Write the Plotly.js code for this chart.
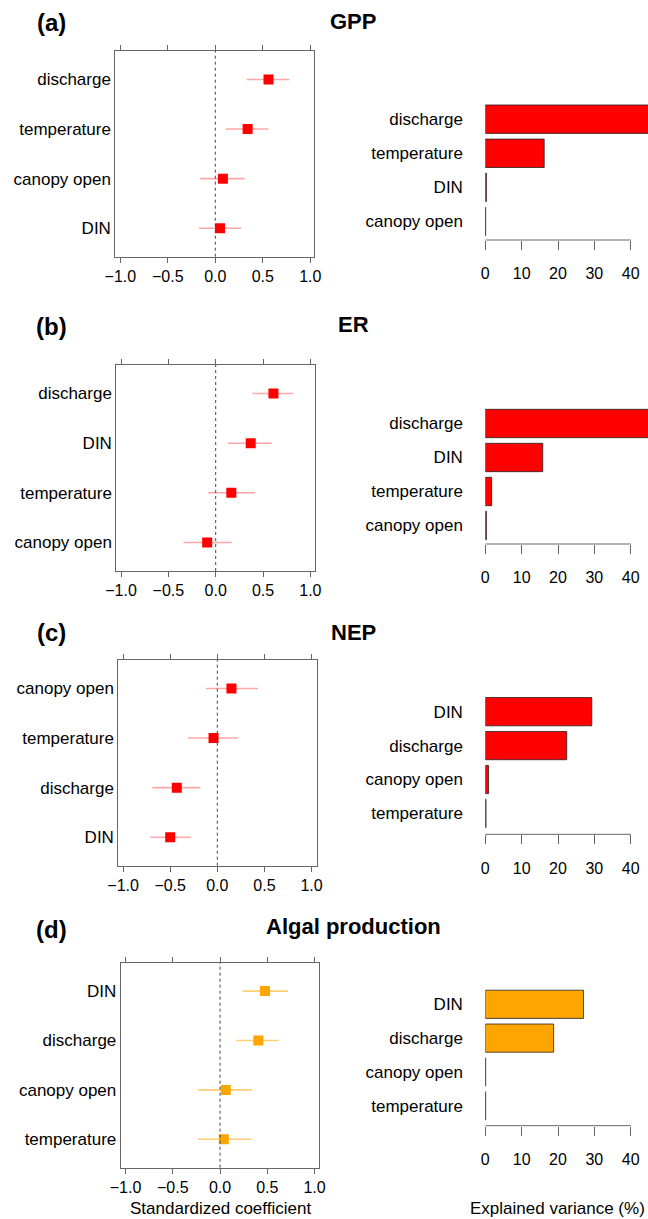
<!DOCTYPE html>
<html>
<head>
<meta charset="utf-8">
<script src="https://cdn.plot.ly/plotly-3.0.1.min.js"></script>
<style>html,body{margin:0;padding:0;background:#fff;}#chart{width:648px;height:1219px;}</style>
</head>
<body>
<div id="chart"></div>
<script>
// ---------- DATA ----------
const panelLabels = ['(a)', '(b)', '(c)', '(d)'];
const panelTitles = ['GPP', 'ER', 'NEP', 'Algal production'];

// Standardized coefficients (left panels), listed top to bottom
const gppCoefVars = ['discharge', 'temperature', 'canopy open', 'DIN'];
const gppCoef     = [0.56, 0.34, 0.08, 0.05];
const gppLow      = [0.33, 0.11, -0.16, -0.17];
const gppHigh     = [0.78, 0.56, 0.31, 0.27];

const erCoefVars = ['discharge', 'DIN', 'temperature', 'canopy open'];
const erCoef     = [0.61, 0.37, 0.165, -0.09];
const erLow      = [0.39, 0.13, -0.08, -0.34];
const erHigh     = [0.82, 0.59, 0.415, 0.17];

const nepCoefVars = ['canopy open', 'temperature', 'discharge', 'DIN'];
const nepCoef     = [0.15, -0.04, -0.43, -0.50];
const nepLow      = [-0.12, -0.31, -0.69, -0.71];
const nepHigh     = [0.43, 0.22, -0.18, -0.28];

const algCoefVars = ['DIN', 'discharge', 'canopy open', 'temperature'];
const algCoef     = [0.475, 0.405, 0.06, 0.04];
const algLow      = [0.24, 0.17, -0.235, -0.235];
const algHigh     = [0.72, 0.62, 0.34, 0.33];

// Explained variance (%) (right panels), listed top to bottom
const gppVarVars = ['discharge', 'temperature', 'DIN', 'canopy open'];
const gppVar     = [47, 16.2, 0.3, 0.1];
const erVarVars  = ['discharge', 'DIN', 'temperature', 'canopy open'];
const erVar      = [47, 15.8, 1.75, 0.3];
const nepVarVars = ['DIN', 'discharge', 'canopy open', 'temperature'];
const nepVar     = [29.3, 22.4, 0.9, 0.2];
const algVarVars = ['DIN', 'discharge', 'canopy open', 'temperature'];
const algVar     = [27.0, 18.8, 0.1, 0.1];

const coefTicks = [-1.0, -0.5, 0.0, 0.5, 1.0];
const varTicks  = [0, 10, 20, 30, 40];
const xTitleLeft  = 'Standardized coefficient';
const xTitleRight = 'Explained variance (%)';

// ---------- STYLE / LAYOUT ----------
const W = 648, H = 1219;
const FONT = 'Liberation Sans, Arial, sans-serif';
const RED = '#FF0000', ORANGE = '#FFA500';
const colors = [RED, RED, RED, ORANGE];
const errColors = ['rgba(255,0,0,0.35)', 'rgba(255,0,0,0.35)', 'rgba(255,0,0,0.35)', 'rgba(255,165,0,0.55)'];

const coefSets = [
  [gppCoefVars, gppCoef, gppLow, gppHigh],
  [erCoefVars, erCoef, erLow, erHigh],
  [nepCoefVars, nepCoef, nepLow, nepHigh],
  [algCoefVars, algCoef, algLow, algHigh]
];
const varSets = [
  [gppVarVars, gppVar], [erVarVars, erVar], [nepVarVars, nepVar], [algVarVars, algVar]
];

// pixel geometry of each panel
const leftBox = [
  {x0: 115.3, x1: 314.0, y0: 51.0,  y1: 256.7, r: [-1.053, 1.039]},
  {x0: 116.3, x1: 315.0, y0: 365.0, y1: 571.0, r: [-1.05, 1.049]},
  {x0: 118.3, x1: 316.7, y0: 660.0, y1: 865.7, r: [-1.051, 1.055]},
  {x0: 120.7, x1: 319.3, y0: 962.7, y1: 1167.7, r: [-1.051, 1.05]}
];
const rightGeo = [
  {c0: 119.2, s: 34.1, axis: 240.0},
  {c0: 423.5, s: 34.0, axis: 544.0},
  {c0: 711.7, s: 33.9, axis: 834.3},
  {c0: 1004.3, s: 33.83, axis: 1125.7}
];
const rightX0 = 485.3, pxPerUnit = 3.635;
const labelPos = [
  {ly: 23, ty: 21}, {ly: 327, ty: 324}, {ly: 632, ty: 632}, {ly: 929, ty: 926}
];

function yd(top, bottom) { return [1 - bottom / H, 1 - top / H]; }

const traces = [];
const layout = {
  width: W, height: H,
  margin: {l: 0, r: 0, t: 0, b: 0},
  paper_bgcolor: '#fff', plot_bgcolor: 'rgba(0,0,0,0)',
  showlegend: false,
  font: {family: FONT, color: '#000'},
  shapes: [], annotations: []
};

for (let p = 0; p < 4; p++) {
  const li = 2 * p + 1, ri = 2 * p + 2;
  const lx = 'x' + li, ly = 'y' + li, rx = 'x' + ri, ry = 'y' + ri;
  const [cv, cc, clo, chi] = coefSets[p];
  traces.push({
    type: 'scatter', mode: 'markers',
    x: cc, y: cv, xaxis: lx, yaxis: ly,
    marker: {symbol: 'square', size: 10, color: colors[p]},
    error_x: {
      type: 'data', symmetric: false,
      array: chi.map((h, i) => h - cc[i]),
      arrayminus: clo.map((l, i) => cc[i] - l),
      color: errColors[p], thickness: 1.6, width: 0
    },
    hoverinfo: 'x+y'
  });
  const [vv, vals] = varSets[p];
  traces.push({
    type: 'bar', orientation: 'h',
    x: vals, y: vv, xaxis: rx, yaxis: ry,
    width: 0.833,
    marker: {color: colors[p], line: {color: '#222', width: 0.8}},
    hoverinfo: 'x+y'
  });

  const b = leftBox[p];
  layout['xaxis' + li] = {
    domain: [b.x0 / W, b.x1 / W], range: b.r, anchor: ly,
    tickvals: coefTicks, ticktext: coefTicks.map(v => (v < 0 ? '\u2212' : '') + Math.abs(v).toFixed(1)),
    ticks: 'outside', ticklen: 5, tickcolor: '#666', tickwidth: 1,
    showline: true, linecolor: '#666', linewidth: 1, mirror: 'ticks',
    showgrid: false, zeroline: false,
    tickfont: {size: 16, family: FONT, color: '#000'}
  };
  layout['yaxis' + li] = {
    domain: yd(b.y0, b.y1), range: [3.575, -0.575], anchor: lx,
    type: 'category', categoryorder: 'array', categoryarray: cv,
    ticks: '', showline: true, linecolor: '#666', linewidth: 1, mirror: true,
    showgrid: false, zeroline: false,
    tickfont: {size: 17, family: FONT, color: '#000'}
  };
  layout.shapes.push({
    type: 'line', xref: lx, x0: 0, x1: 0, yref: ly + ' domain', y0: 0, y1: 1,
    line: {color: '#444', width: 1, dash: 'dot'}
  });

  const g = rightGeo[p];
  const top = g.c0 - 0.57 * g.s;
  layout['xaxis' + ri] = {
    domain: [rightX0 / W, 1], range: [0, (W - rightX0) / pxPerUnit], anchor: ry,
    tickvals: varTicks, ticks: 'outside', ticklen: 9, tickcolor: '#666', tickwidth: 1,
    showline: false, showgrid: false, zeroline: false,
    ticklabelstandoff: 10,
    tickfont: {size: 16, family: FONT, color: '#000'}
  };
  layout['yaxis' + ri] = {
    domain: yd(top, g.axis), range: [(g.axis - g.c0) / g.s, -0.57], anchor: rx,
    type: 'category', categoryorder: 'array', categoryarray: vv,
    ticks: 'outside', ticklen: 18, tickcolor: 'rgba(0,0,0,0)',
    showline: false, showgrid: false, zeroline: false,
    tickfont: {size: 17, family: FONT, color: '#000'}
  };
  layout.shapes.push({
    type: 'line', xref: rx, x0: varTicks[0], x1: varTicks[varTicks.length - 1],
    yref: ry + ' domain', y0: 0, y1: 0,
    line: {color: '#666', width: 1}
  });

  const lp = labelPos[p];
  layout.annotations.push({
    xref: 'paper', yref: 'paper', x: 51 / W, y: 1 - lp.ly / H,
    xanchor: 'center', yanchor: 'middle', showarrow: false,
    text: '<b>' + panelLabels[p] + '</b>', font: {size: 24, family: FONT, color: '#000'}
  });
  layout.annotations.push({
    xref: 'paper', yref: 'paper', x: 353 / W, y: 1 - lp.ty / H,
    xanchor: 'center', yanchor: 'middle', showarrow: false,
    text: '<b>' + panelTitles[p] + '</b>', font: {size: 22, family: FONT, color: '#000'}
  });
}

layout.annotations.push({
  xref: 'paper', yref: 'paper', x: 220.8 / W, y: 1 - 1208 / H,
  xanchor: 'center', yanchor: 'middle', showarrow: false,
  text: xTitleLeft, font: {size: 17, family: FONT, color: '#000'}
});
layout.annotations.push({
  xref: 'paper', yref: 'paper', x: 557.5 / W, y: 1 - 1208 / H,
  xanchor: 'center', yanchor: 'middle', showarrow: false,
  text: xTitleRight, font: {size: 17, family: FONT, color: '#000'}
});

Plotly.newPlot('chart', traces, layout, {staticPlot: true, displayModeBar: false});
</script>
</body>
</html>
